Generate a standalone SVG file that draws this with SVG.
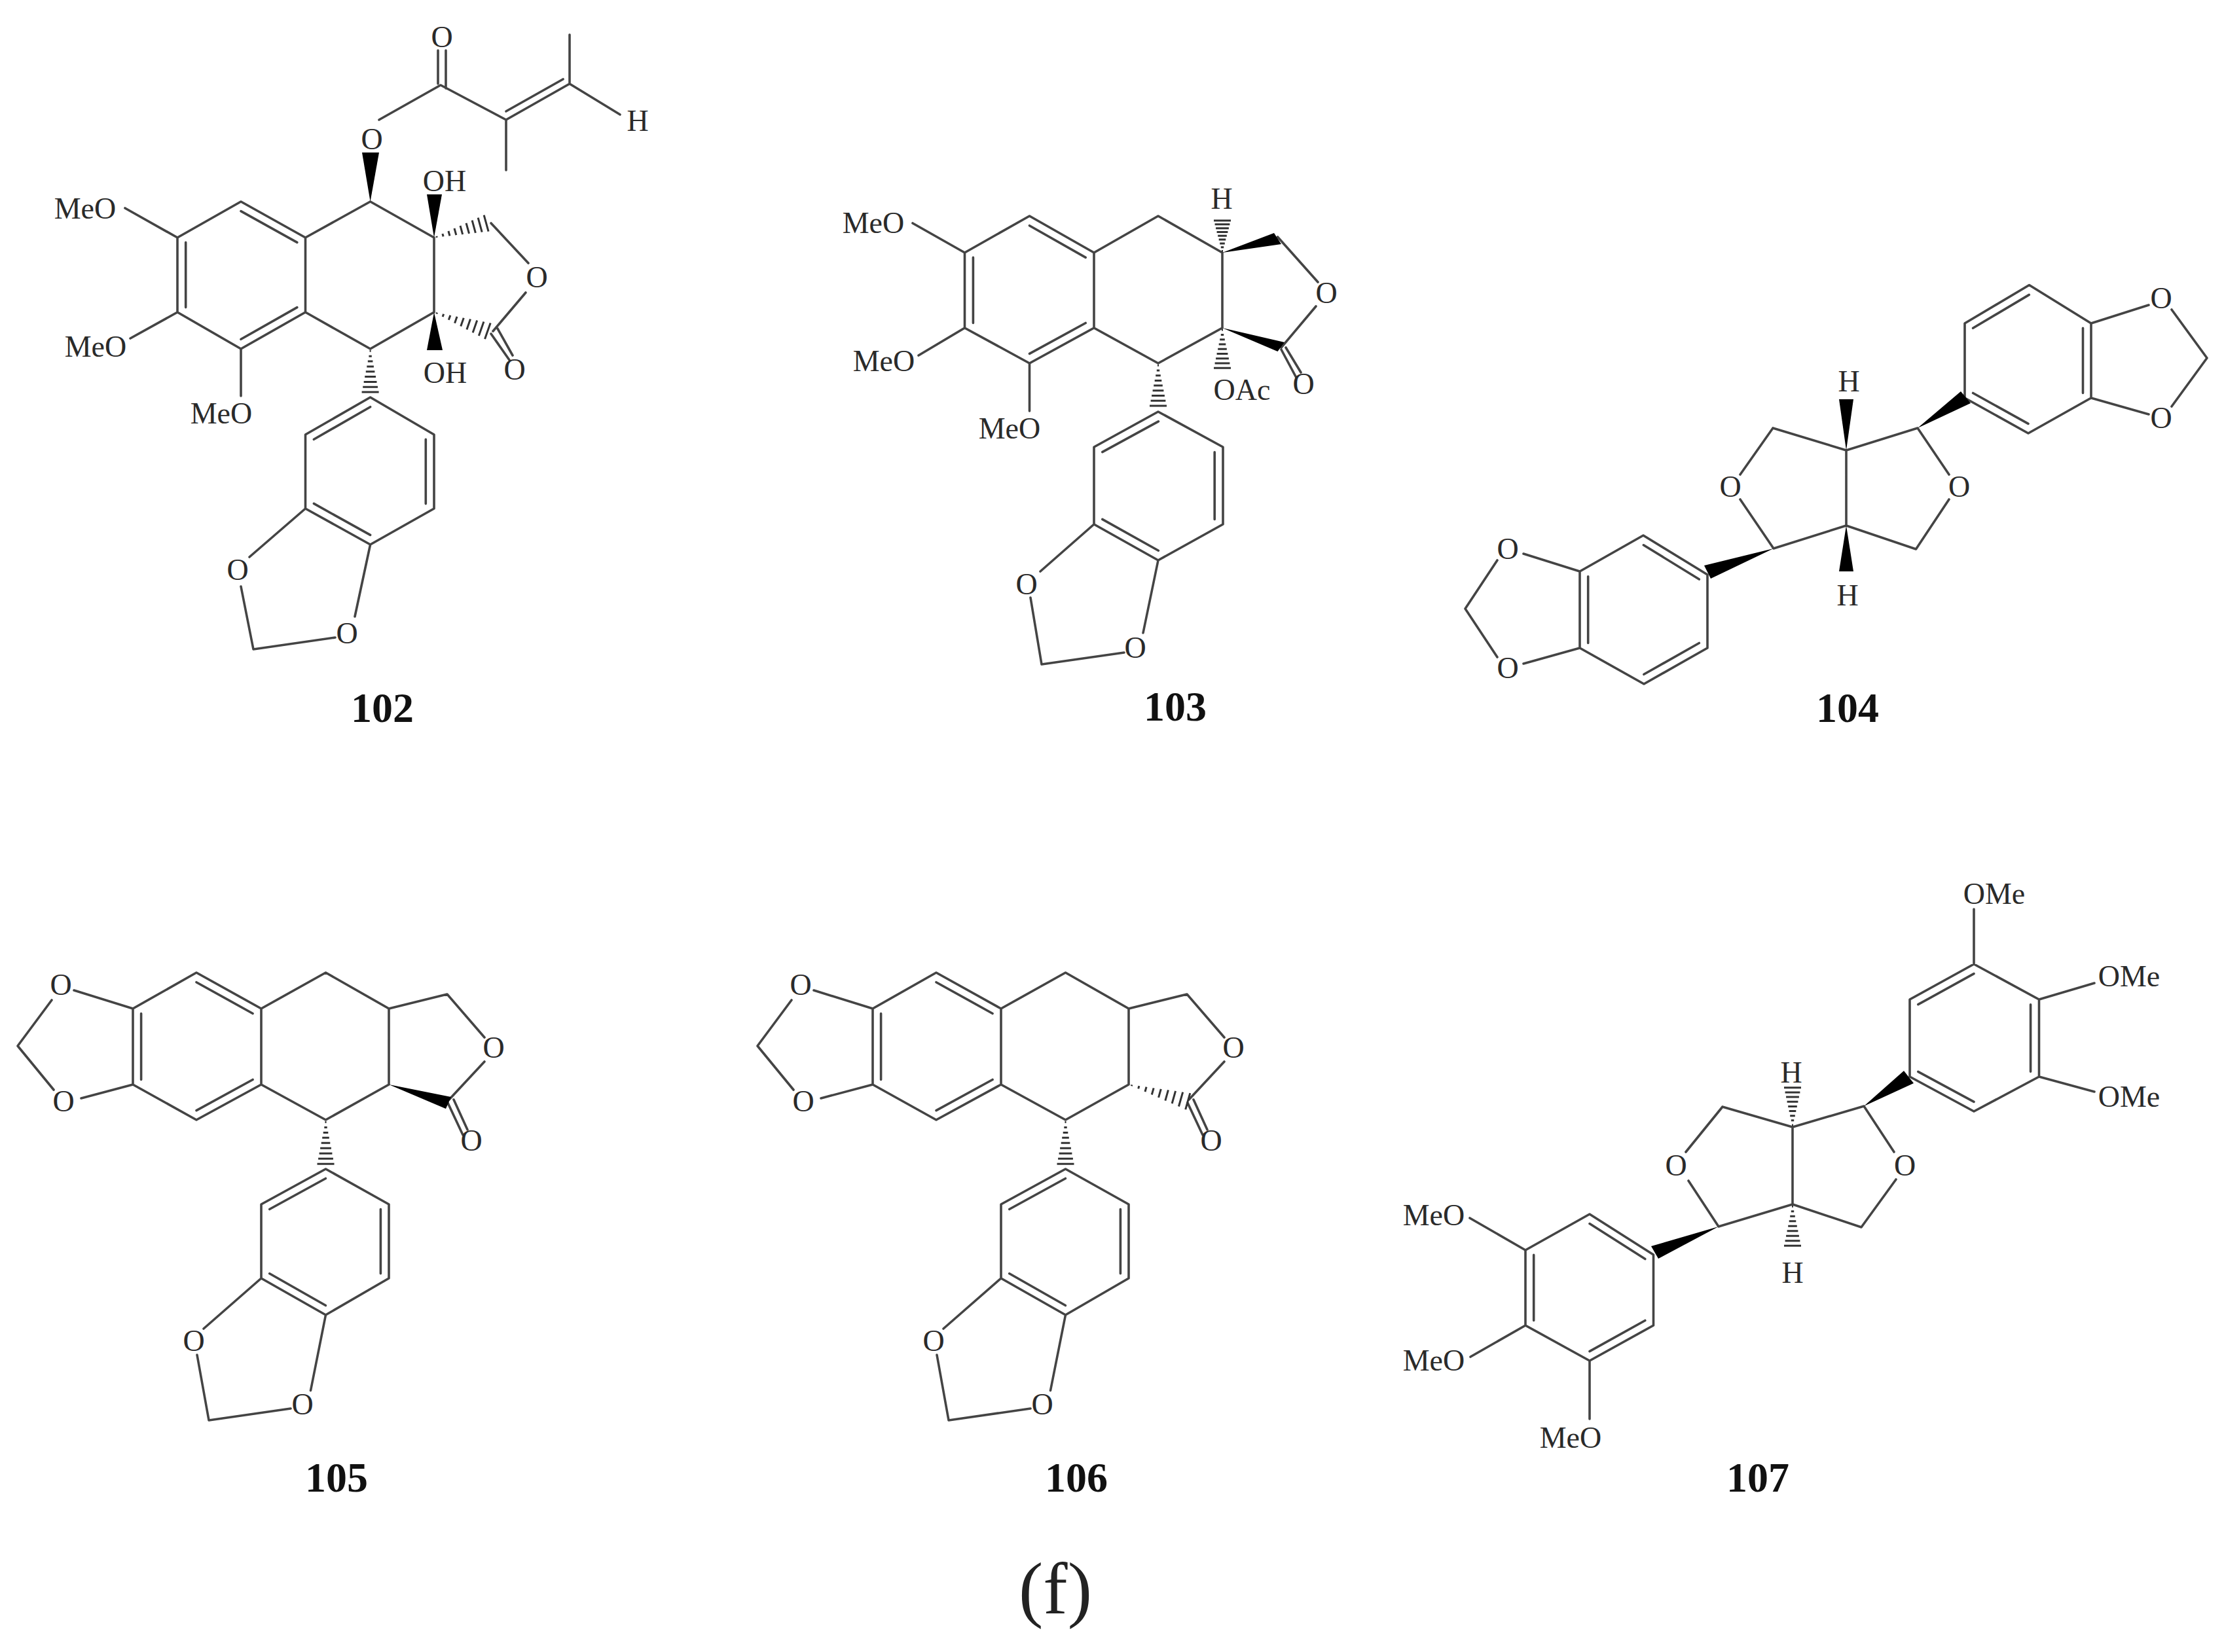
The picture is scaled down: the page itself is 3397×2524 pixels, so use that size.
<svg xmlns="http://www.w3.org/2000/svg" xmlns:xlink="http://www.w3.org/1999/xlink" width="3397" height="2524" viewBox="0 0 3397 2524">
<style>
.b{fill:none;stroke:#444;stroke-width:3.6;stroke-linejoin:round;stroke-linecap:round}
.w{fill:#000;stroke:none}
.h{fill:none;stroke:#333;stroke-width:3;vector-effect:non-scaling-stroke}
text{font-family:"Liberation Serif","Times New Roman",serif;fill:#2a2a2a;text-anchor:middle}
.a{font-size:46px}
.n{font-size:64px;font-weight:bold;fill:#111}
.c{font-size:112px;fill:#222}
</style>
<defs>
<path id="hash" class="h" d="M3-1V1M10-2.2V2.2M17-3.8V3.8M24-5.3V5.3M31-6.8V6.8M38-8.4V8.4M45-9.9V9.9M52-11.4V11.4M59-13V13"/>
</defs>
<rect width="3397" height="2524" fill="#fff"/>

<g id="mol-102">
<path class="b" d="M271 363L368 308L466.5 363V477L368 533L271 477ZM368 322.6L453.8 370.4M283.7 370.4V469.6M453.8 469.6L368 518.3M466.5 363L565.6 308L663 363V477L565.6 533L466.5 477M750 341L807 402M803 447L753 506M750 510L778 550M760 502L783 543M579 183L673 130L773 183L870 128L947 175M773 170L860 121M669 128V77M681 135V77M773 183V260M870 128V53M191 318L271 363M199 517L271 477M368 533V605M565.6 607L663 664V777L565.6 832L466.5 777V664ZM565.6 621.7L479.4 671.3M650.3 671.3V769.6M565.6 817.4L479.4 769.4M466.5 777L381 851M565.6 832L542 942M368 896L387 992L512 974"/>
<polygon class="w" points="565.6,308 553,233 579,233"/>
<polygon class="w" points="663,363 652,297 675,297"/>
<polygon class="w" points="663,477 652,535 676,535"/>
<use xlink:href="#hash" href="#hash" transform="translate(663,363) rotate(-15.4) scale(1.4,1)"/>
<use xlink:href="#hash" href="#hash" transform="translate(663,477) rotate(19.3) scale(1.47,1)"/>
<use xlink:href="#hash" href="#hash" transform="translate(565.6,533) rotate(90) scale(1.12,1)"/>
<text class="a" x="130" y="334">MeO</text>
<text class="a" x="146" y="545">MeO</text>
<text class="a" x="338" y="647">MeO</text>
<text class="a" x="568" y="228">O</text>
<text class="a" x="675" y="72">O</text>
<text class="a" x="974" y="200">H</text>
<text class="a" x="679" y="292">OH</text>
<text class="a" x="680" y="585">OH</text>
<text class="a" x="820" y="439">O</text>
<text class="a" x="786" y="580">O</text>
<text class="a" x="363" y="886">O</text>
<text class="a" x="530" y="983">O</text>
<text class="n" x="584" y="1103">102</text>
</g>

<g id="mol-103">
<path class="b" d="M1473.5 386L1572.5 330L1671 386V501L1572.5 555L1473.5 501ZM1572.5 344.7L1658.2 393.4M1486.4 393.4V493.5M1658.2 493.5L1572.5 540.4M1671 386L1769 330L1867 386V501L1769 555L1671 501M1951.5 362L2013 431M2010 468L1957 531M1957 534L1980 577M1964 531L1987 569M1394 341L1473.5 386M1403 543L1473.5 501M1572.5 555V628M1769 629L1868 683V801L1769 856L1671 801V683ZM1769.4 643.8L1683.8 690.7M1855.2 690.7V793.4M1769.4 841.2L1683.8 793.4M1671 801L1589 873M1769 856L1746 967M1574 913L1591 1015L1717 997"/>
<polygon class="w" points="1867,386 1946,356 1957,373"/>
<polygon class="w" points="1867,501 1951.5,537 1962,523"/>
<use xlink:href="#hash" href="#hash" transform="translate(1867,386) rotate(-90) scale(.83,1)"/>
<use xlink:href="#hash" href="#hash" transform="translate(1867,501) rotate(90) scale(1.04,1)"/>
<use xlink:href="#hash" href="#hash" transform="translate(1769,555) rotate(90) scale(1.1,1)"/>
<text class="a" x="1334" y="356">MeO</text>
<text class="a" x="1350" y="567">MeO</text>
<text class="a" x="1542" y="670">MeO</text>
<text class="a" x="1866" y="319">H</text>
<text class="a" x="1897" y="611">OAc</text>
<text class="a" x="2026" y="463">O</text>
<text class="a" x="1991" y="602">O</text>
<text class="a" x="1568" y="908">O</text>
<text class="a" x="1734" y="1005">O</text>
<text class="n" x="1795" y="1101">103</text>
</g>

<g id="mol-104">
<path class="b" d="M2820 688V803M2708 654L2820 688L2929 654L2977 725M2977 763L2926.5 839L2820 803L2709 838L2658 763M2658 725L2708 654M3001 608V494L3099.5 435.5L3194 494V608L3098 662ZM3013.6 501.3L3099.3 450.4M3181.5 501.3V600.5M3013.6 600.5L3098 647.4M3194 494L3282 466M3194 608L3282 633M3317 473L3371 547L3317 621M2608 878L2510 818L2413 873V990L2511 1045L2608 990ZM2595.3 885L2510.4 832.8M2425.7 880.7V982.5M2510.9 1030.3L2595.3 982.5M2413 873L2327 846M2413 990L2327 1014M2287 856L2238 930L2287 1004"/>
<polygon class="w" points="2820,688 2809,610 2831,610"/>
<polygon class="w" points="2820,803 2809,873 2831,873"/>
<polygon class="w" points="2929,654 2995,598 3010,616"/>
<polygon class="w" points="2709,838 2603,864 2613,884"/>
<text class="a" x="2992.5" y="759">O</text>
<text class="a" x="2643" y="759">O</text>
<text class="a" x="2824" y="598">H</text>
<text class="a" x="2822" y="925">H</text>
<text class="a" x="3301" y="471">O</text>
<text class="a" x="3301" y="654">O</text>
<text class="a" x="2303" y="854">O</text>
<text class="a" x="2303" y="1036">O</text>
<text class="n" x="2822" y="1103">104</text>
</g>

<g id="mol-105">
<path class="b" d="M203 1541L300 1486L399 1541V1657L300 1711L203 1657ZM300 1500.7L386.1 1548.5M215.6 1548.5V1649.5M386.1 1649.5L300 1696.6M399 1541L497.5 1486L594 1541V1657L497.5 1711L399 1657M594 1541L683 1519L740 1585M740 1622L686 1680M684 1685L707 1734M693 1680L714 1726M203 1541L113 1513M203 1657L124 1678M79 1528L27 1598L82 1665M497.5 1786L594 1840V1953L497.5 2009L399 1953V1840ZM497.4 1800.5L411.7 1847.5M581.4 1847.5V1945.8M497.4 1994.5L411.7 1945.8M399 1953L311 2030M497.5 2009L474.5 2124.5M301 2070L319 2170L444 2152"/>
<polygon class="w" points="594,1657 681,1694 689,1676"/>
<use xlink:href="#hash" href="#hash" transform="translate(497.5,1711) rotate(90) scale(1.14,1)"/>
<text class="a" x="93" y="1520">O</text>
<text class="a" x="97" y="1698">O</text>
<text class="a" x="754" y="1616">O</text>
<text class="a" x="720" y="1758">O</text>
<text class="a" x="296" y="2064">O</text>
<text class="a" x="462" y="2161">O</text>
<text class="n" x="514" y="2279">105</text>
</g>

<g id="mol-106">
<path class="b" d="M1333 1541L1430 1486L1529 1541V1657L1430 1711L1333 1657ZM1430 1500.7L1516.1 1548.5M1345.6 1548.5V1649.5M1516.1 1649.5L1430 1696.6M1529 1541L1627.5 1486L1724 1541V1657L1627.5 1711L1529 1657M1724 1541L1813 1519L1870 1585M1870 1622L1816 1680M1814 1685L1837 1734M1823 1680L1844 1726M1333 1541L1243 1513M1333 1657L1254 1678M1209 1528L1157 1598L1212 1665M1627.5 1786L1724 1840V1953L1627.5 2009L1529 1953V1840ZM1627.4 1800.5L1541.7 1847.5M1711.4 1847.5V1945.8M1627.4 1994.5L1541.7 1945.8M1529 1953L1441 2030M1627.5 2009L1604.5 2124.5M1431 2070L1449 2170L1574 2152"/>
<use xlink:href="#hash" href="#hash" transform="translate(1724,1657) rotate(15.8) scale(1.59,1)"/>
<use xlink:href="#hash" href="#hash" transform="translate(1627.5,1711) rotate(90) scale(1.14,1)"/>
<text class="a" x="1223" y="1520">O</text>
<text class="a" x="1227" y="1698">O</text>
<text class="a" x="1884" y="1616">O</text>
<text class="a" x="1850" y="1758">O</text>
<text class="a" x="1426" y="2064">O</text>
<text class="a" x="1592" y="2161">O</text>
<text class="n" x="1644" y="2279">106</text>
</g>

<g id="mol-107">
<path class="b" d="M2738 1722V1840M2631 1691L2738 1722L2847 1690L2893 1760M2896 1802L2843 1875L2738 1840L2625 1874L2579 1804M2575 1760L2631 1691M2917 1645V1527L3015 1473L3114.5 1527V1645L3015 1698ZM2929.8 1534.7L3015 1487.7M3101.6 1534.7V1637.3M2929.8 1637.3L3015 1683.4M3015 1473V1389M3114.5 1527L3199 1502M3114.5 1645L3199 1668M2525.5 1917L2428 1855L2330 1910V2025L2428 2079L2525.5 2025ZM2512.8 1923.5L2428 1869.6M2342.7 1917.4V2017.5M2428 2064.6L2512.8 2017.5M2245 1861L2330 1910M2246 2073L2330 2025M2428 2079V2168"/>
<polygon class="w" points="2847,1690 2908,1636 2923,1655"/>
<polygon class="w" points="2625,1874 2522,1904 2533,1923"/>
<use xlink:href="#hash" href="#hash" transform="translate(2738,1722) rotate(-90) scale(1.02,1)"/>
<use xlink:href="#hash" href="#hash" transform="translate(2738,1840) rotate(90) scale(1.07,1)"/>
<text class="a" x="3046" y="1381">OMe</text>
<text class="a" x="3252" y="1507">OMe</text>
<text class="a" x="3252" y="1691">OMe</text>
<text class="a" x="2909.5" y="1796">O</text>
<text class="a" x="2560" y="1796">O</text>
<text class="a" x="2736" y="1654">H</text>
<text class="a" x="2738" y="1960">H</text>
<text class="a" x="2190" y="1872">MeO</text>
<text class="a" x="2190" y="2094">MeO</text>
<text class="a" x="2399" y="2212">MeO</text>
<text class="n" x="2685" y="2279">107</text>
</g>

<text id="panel-label" class="c" x="1612" y="2465">(f)</text>
</svg>
